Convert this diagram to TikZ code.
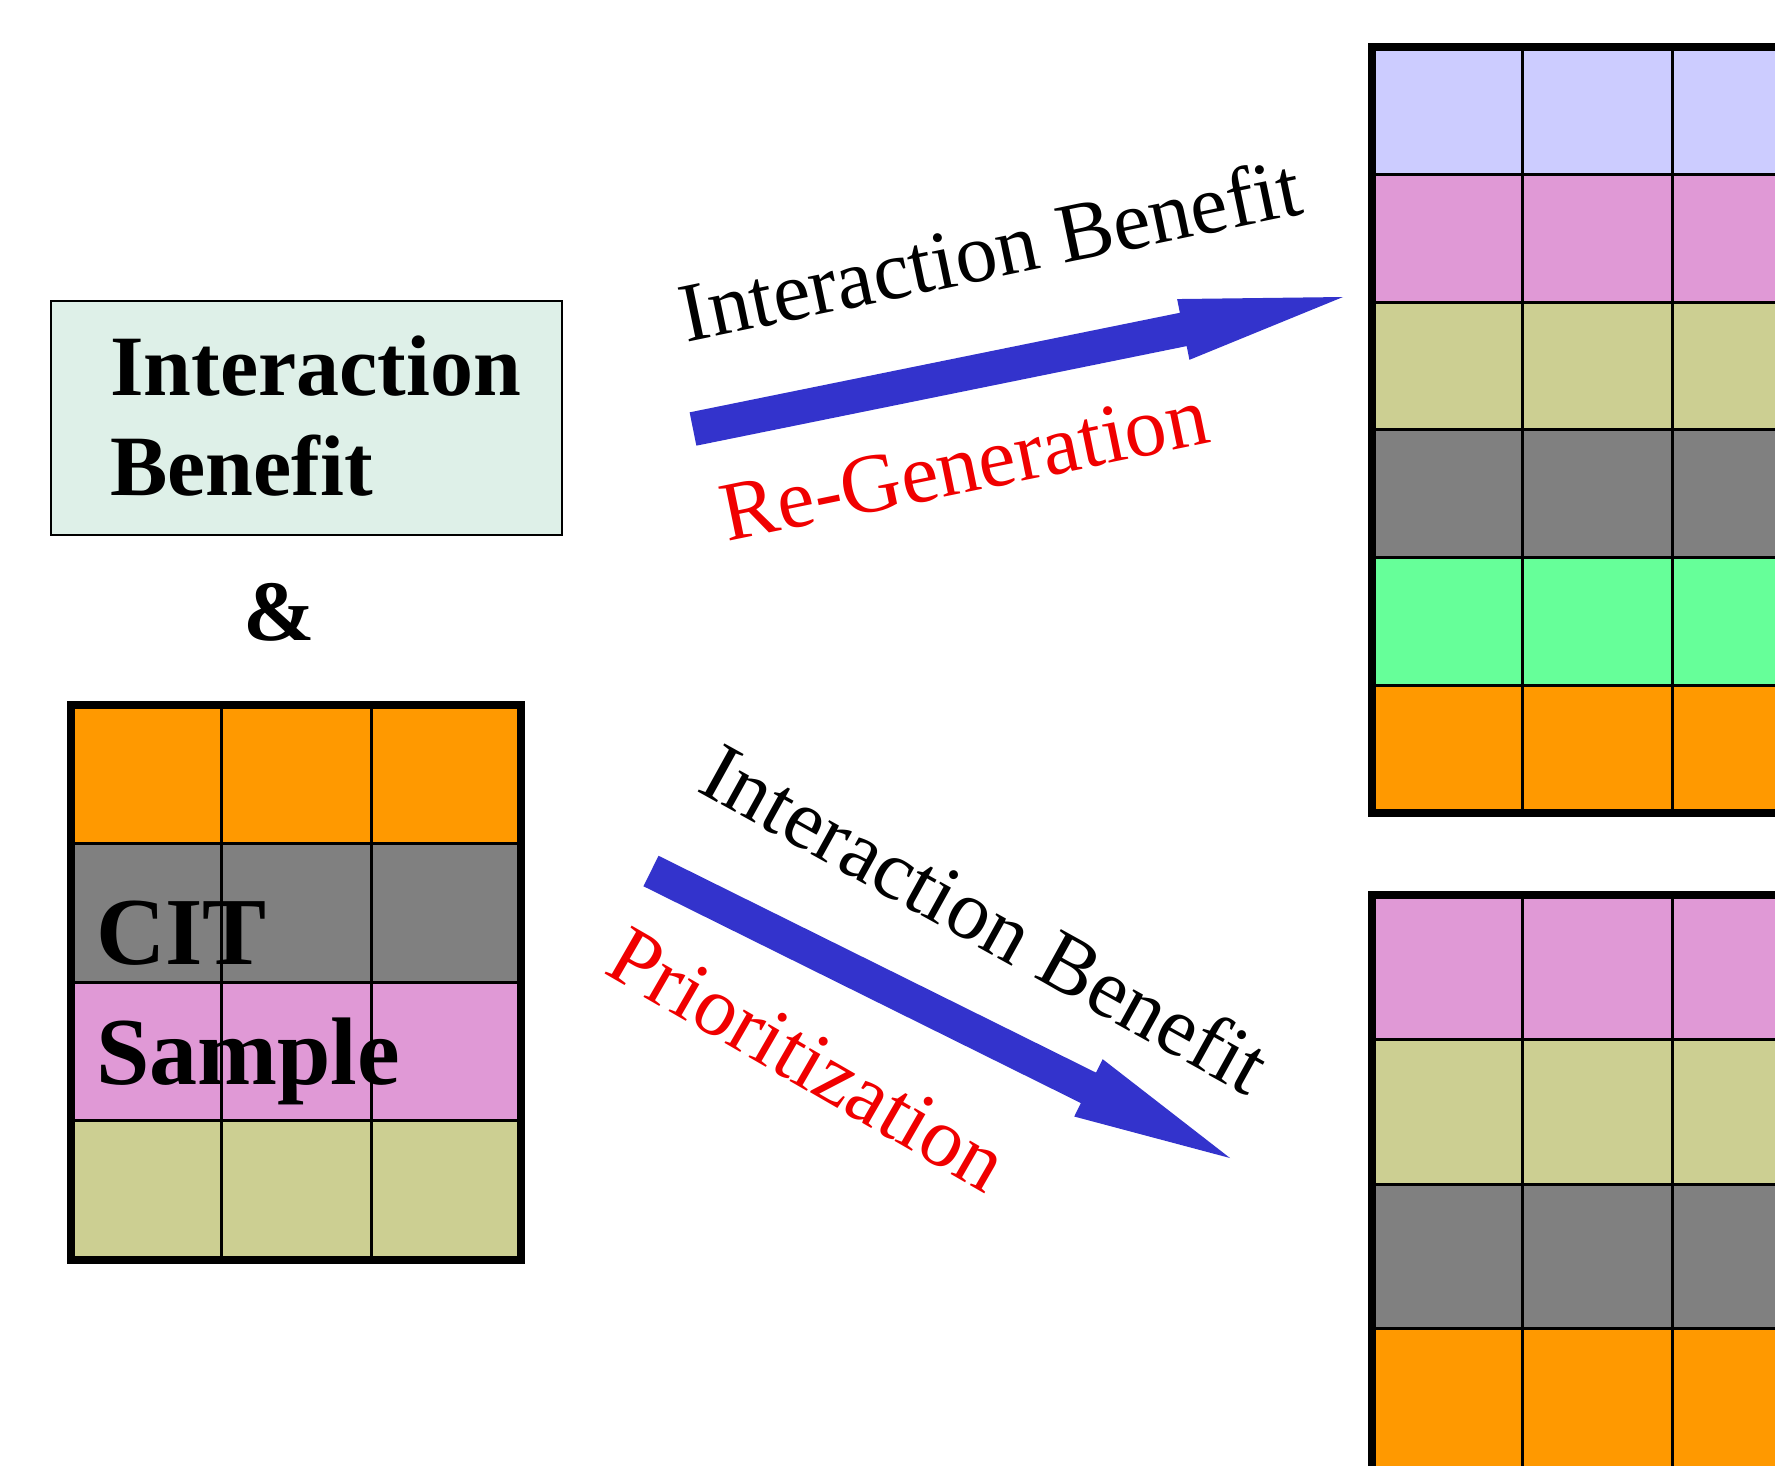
\documentclass[tikz,border=0pt]{standalone}
\usepackage{fontspec}
\setmainfont{Liberation Serif}
\usetikzlibrary{calc}

\definecolor{lavender}{RGB}{204,204,255}
\definecolor{plum}{RGB}{224,153,214}
\definecolor{khaki}{RGB}{204,207,146}
\definecolor{midgray}{RGB}{128,128,128}
\definecolor{springgreen}{RGB}{102,255,153}
\definecolor{amber}{RGB}{255,153,0}
\definecolor{mint}{RGB}{222,240,232}
\definecolor{arrowblue}{RGB}{51,51,204}
\definecolor{labelred}{RGB}{240,0,0}

\tikzset{
  bigbold/.style={font=\fontsize{86}{100}\selectfont\bfseries, inner sep=0pt},
  citfont/.style={font=\fontsize{96}{110}\selectfont\bfseries, inner sep=0pt},
  caption/.style={font=\fontsize{84}{100}\selectfont, inner sep=0pt},
  gridline/.style={line width=3pt, black},
  gridframe/.style={line width=8pt, black},
  blockarrow/.style={fill=arrowblue},
}

% filled block arrow between two named coordinates:
% #1 tail, #2 tip, #3 shaft half width, #4 head half width, #5 head length
\newcommand{\blockarrowpath}[5]{%
  \coordinate (#1-base) at ($(#2)!#5!(#1)$);
  \fill[blockarrow]
    ($(#1)!#3!90:(#2)$) --
    ($(#1-base)!#3!90:(#2)$) --
    ($(#1-base)!#4!90:(#2)$) --
    (#2) --
    ($(#1-base)!#4!-90:(#2)$) --
    ($(#1-base)!#3!-90:(#2)$) --
    ($(#1)!#3!-90:(#2)$) -- cycle;
}

\begin{document}
\begin{tikzpicture}[x=1pt,y=-1pt]
\useasboundingbox (0,0) rectangle (1775,1465);
\fill[white] (0,0) rectangle (1775,1465);
\clip (0,0) rectangle (1775,1465);

% ---- input block: interaction benefit box ----
\node[draw, line width=1.5pt, fill=mint, minimum width=511pt, minimum height=234pt,
      anchor=north west, inner sep=0pt] (ibbox) at (50,300) {};
\node[bigbold, anchor=base west] (ibline1) at (110,395) {Interaction};
\node[bigbold, anchor=base west] (ibline2) at (110,495) {Benefit};
\node[bigbold, anchor=base] (amp) at (279,640) {\&};

% ---- input block: CIT sample grid ----
\foreach \c [count=\i from 0] in {amber,midgray,plum,khaki}
  \fill[\c] (71,{705+\i*138.6}) rectangle (521,{705+(\i+1)*138.6});
\foreach \i in {1,2,3}
  \draw[gridline] (71,{705+\i*138.6}) -- (521,{705+\i*138.6});
\foreach \x in {221,371}
  \draw[gridline] (\x,705) -- (\x,1259.5);
\draw[gridframe] (71,705) rectangle (521,1259.5);
\node[citfont, anchor=base west] (cit) at (96,964) {CIT};
\node[citfont, anchor=base west] (sample) at (96,1084) {Sample};

% ---- output: regenerated suite ----
\foreach \c [count=\i from 0] in {lavender,plum,khaki,midgray,springgreen,amber}
  \fill[\c] (1372,{46.5+\i*127.8}) rectangle (1830,{46.5+(\i+1)*127.8});
\foreach \i in {1,...,5}
  \draw[gridline] (1372,{46.5+\i*127.8}) -- (1830,{46.5+\i*127.8});
\foreach \x in {1522,1672}
  \draw[gridline] (\x,46.5) -- (\x,813.3);
\draw[gridframe] (1372,46.5) rectangle (1830,813.3);

% ---- output: prioritized suite ----
\foreach \c [count=\i from 0] in {plum,khaki,midgray,amber}
  \fill[\c] (1372,{895+\i*144.5}) rectangle (1830,{895+(\i+1)*144.5});
\foreach \i in {1,2,3}
  \draw[gridline] (1372,{895+\i*144.5}) -- (1830,{895+\i*144.5});
\foreach \x in {1522,1672}
  \draw[gridline] (\x,895) -- (\x,1480);
\draw[gridframe] (1372,895) rectangle (1830,1480);

% ---- arrows ----
\coordinate (upTail) at (693,429);
\coordinate (upTip) at (1343,297);
\blockarrowpath{upTail}{upTip}{17pt}{31pt}{163pt}

\coordinate (downTail) at (651,871);
\coordinate (downTip) at (1230,1158);
\blockarrowpath{downTail}{downTip}{17pt}{32pt}{158pt}

% ---- arrow labels ----
\node[caption, rotate=11.8, anchor=base] (regenTop) at (996,278) {Interaction Benefit};
\node[caption, rotate=11.6, anchor=base, text=labelred] (regen) at (970,492) {Re-Generation};
\node[caption, rotate=-29, anchor=center] (prioTop) at (986,918) {Interaction Benefit};
\node[caption, rotate=-30, anchor=center, text=labelred] (prio) at (808,1060) {Prioritization};
\end{tikzpicture}
\end{document}
